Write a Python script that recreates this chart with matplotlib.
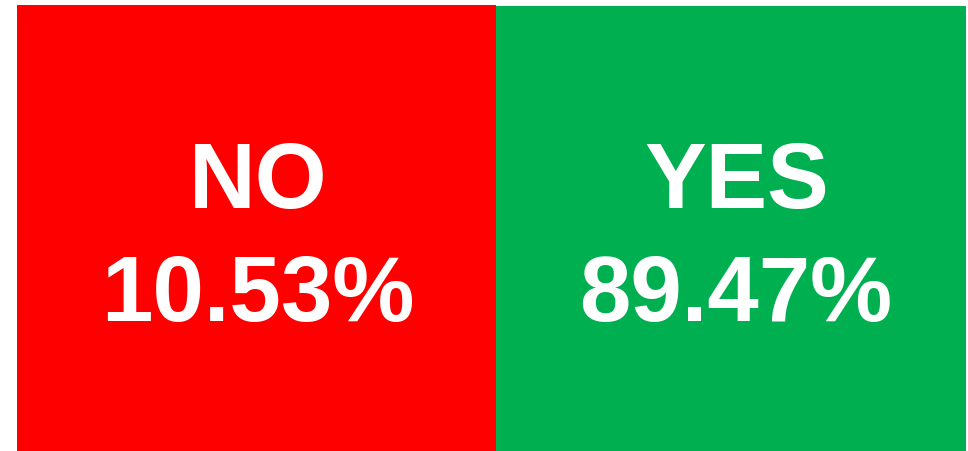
import matplotlib.pyplot as plt

labels = ['NO', 'YES']
percents = [10.53, 89.47]
colors = ['#FF0000', '#00B050']

# box layout in pixels (left, width, top)
box_left = [17, 496]
box_width = [479, 470]
box_top = [5, 6]
text_shift = [1, 5]  # small horizontal nudge of the labels

fig = plt.figure(figsize=(9.68, 4.51), dpi=100)
ax = fig.add_axes([0, 0, 1, 1])
ax.set_xlim(0, 968)
ax.set_ylim(451, 0)
ax.axis('off')

for i, (lab, pct) in enumerate(zip(labels, percents)):
    ax.bar(box_left[i], 451 - box_top[i], width=box_width[i], bottom=box_top[i],
           align='edge', color=colors[i], linewidth=0)
    cx = box_left[i] + box_width[i] / 2 + text_shift[i]
    ax.text(cx + 1, 208, lab, ha='center', va='baseline', color='white',
            fontsize=66.5, fontweight='bold', family='Liberation Sans')
    ax.text(cx, 321, f'{pct:.2f}%', ha='center', va='baseline', color='white',
            fontsize=66.5, fontweight='bold', family='Liberation Sans')

fig.savefig('out.png', dpi=100)
